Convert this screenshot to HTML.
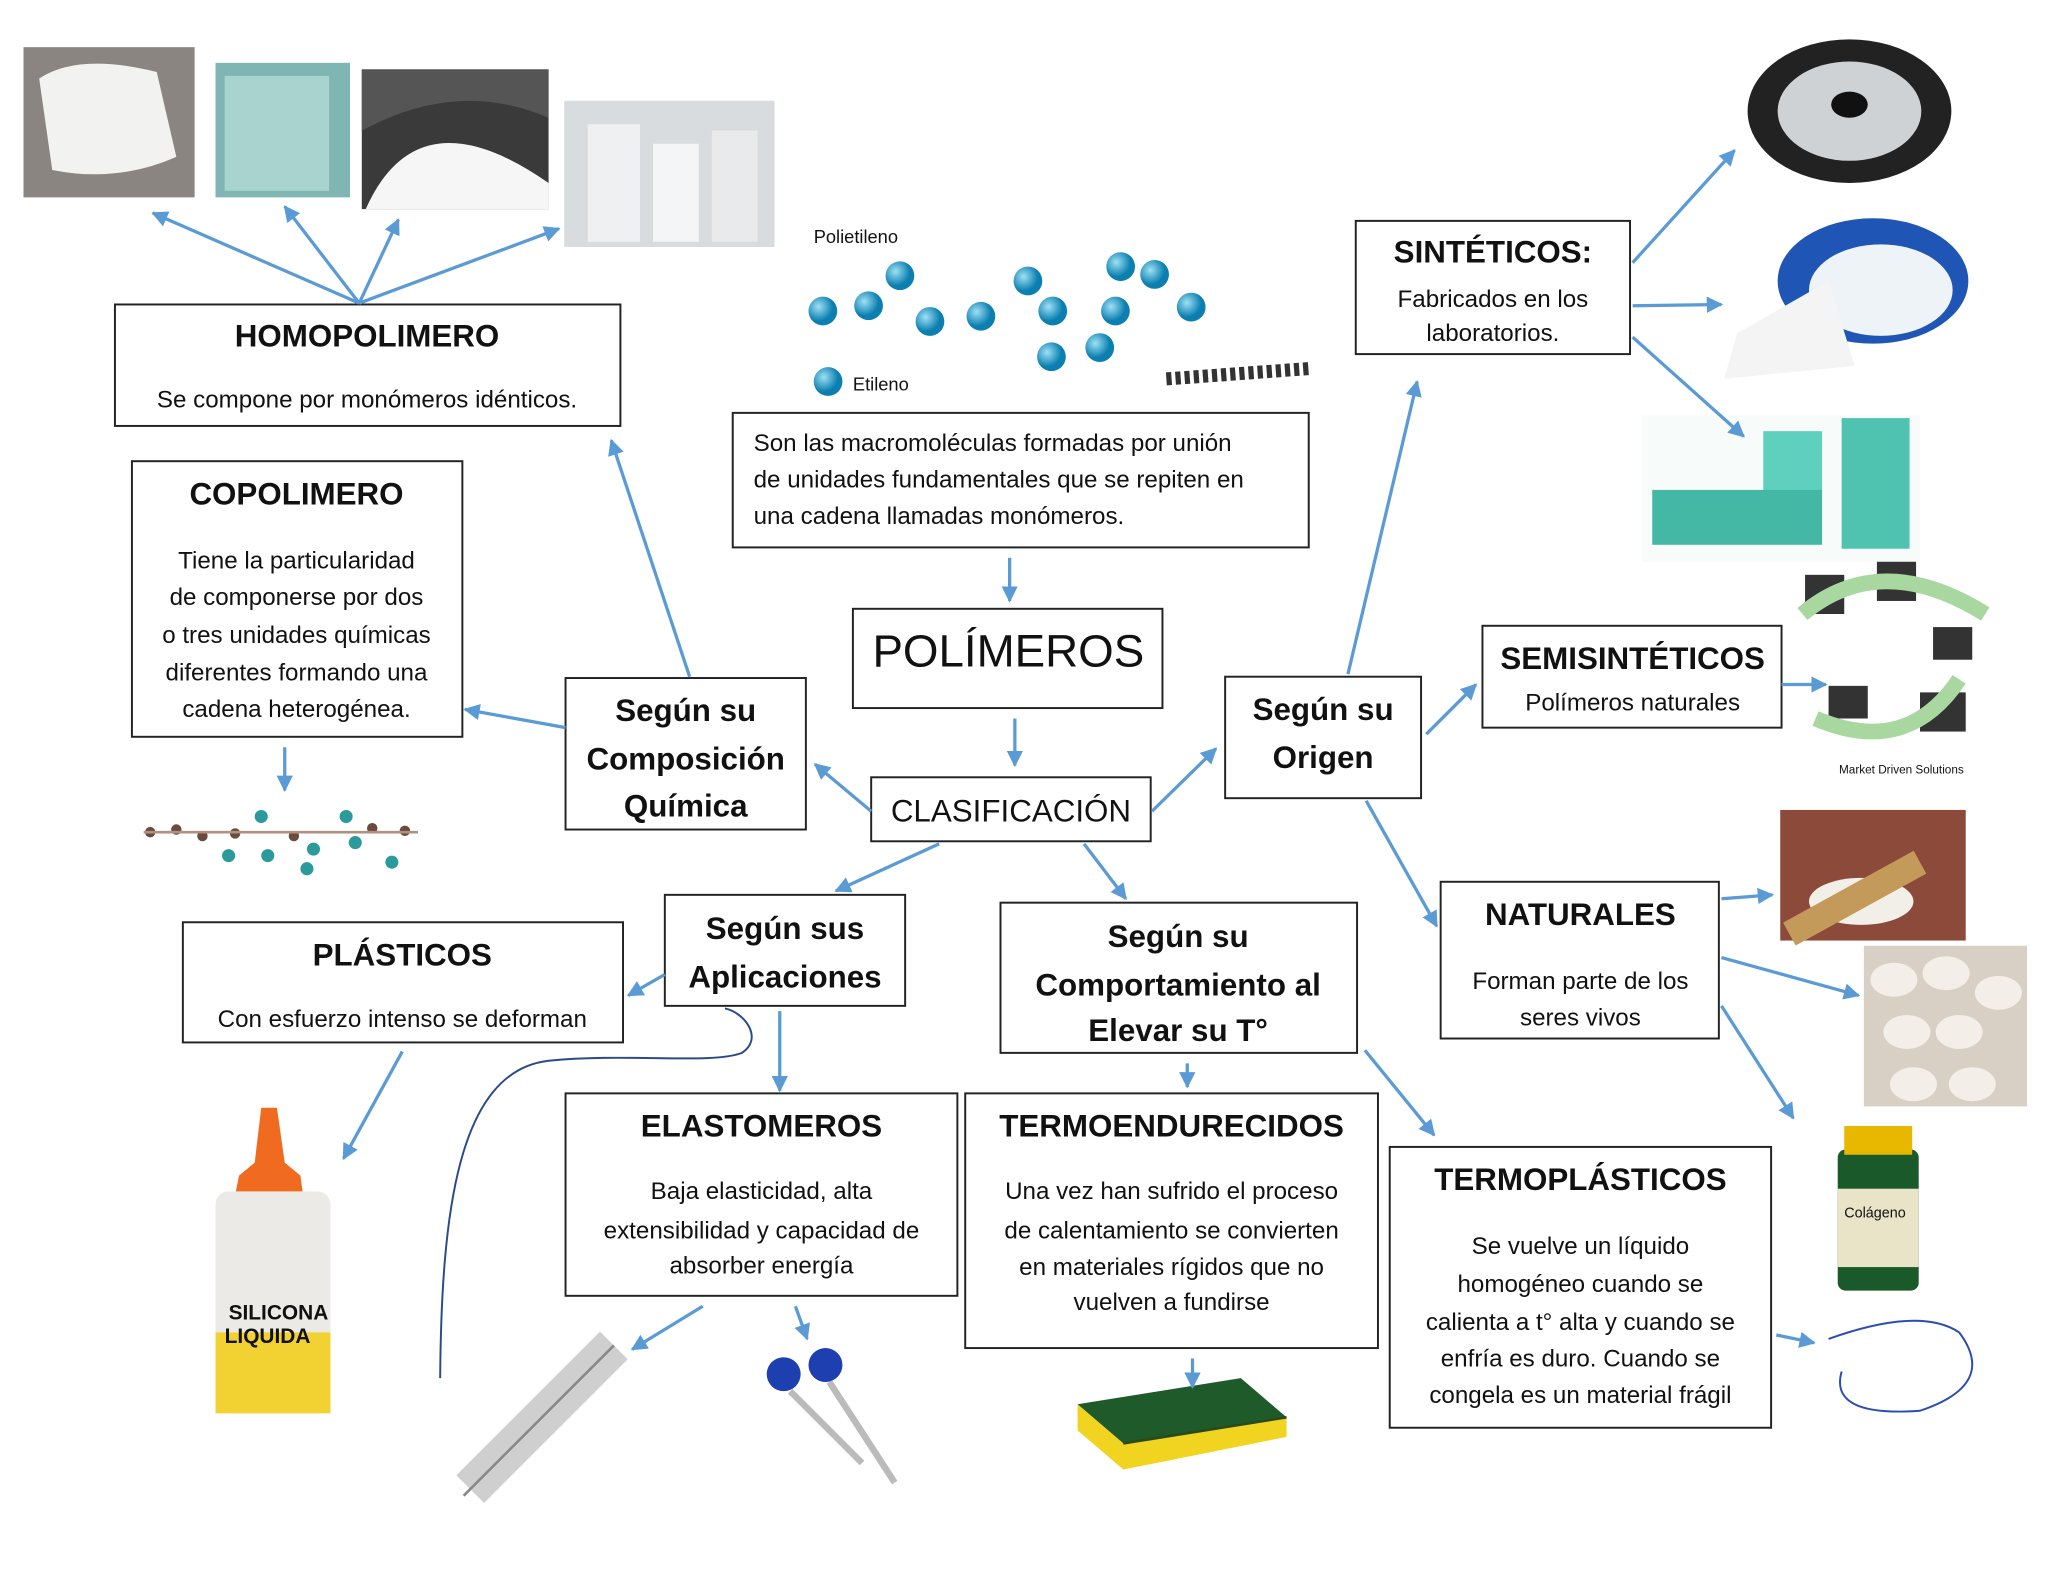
<!DOCTYPE html>
<html><head><meta charset="utf-8"><style>
html,body{margin:0;padding:0;background:#fff}
svg{display:block}
text{font-family:"Liberation Sans",sans-serif;fill:#111}
.b{font-weight:bold}
</style></head><body>
<svg width="2048" height="1582" viewBox="0 0 1568 1211" xmlns="http://www.w3.org/2000/svg">
<defs>
<marker id="a" viewBox="0 0 10 10" refX="9" refY="5" markerWidth="5" markerHeight="5" orient="auto"><path d="M0,0L10,5L0,10z" fill="#5b9bd5"/></marker>
<radialGradient id="ball" cx="35%" cy="35%"><stop offset="0" stop-color="#9fe0f5"/><stop offset="1" stop-color="#0a7fb0"/></radialGradient>
</defs>
<rect width="1568" height="1211" fill="#fff"/>

<!-- images (approximations) -->
<rect x="18" y="36" width="131" height="115" fill="#8a8580"/><path d="M30,60 Q60,40 120,55 L135,120 Q90,140 40,130 Z" fill="#f2f2f0"/>
<rect x="165" y="48" width="103" height="103" fill="#7fb6b3"/><rect x="172" y="58" width="80" height="88" fill="#a9d3cf"/>
<rect x="277" y="53" width="143" height="107" fill="#3a3a3a"/><path d="M277,53 L420,53 L420,90 Q350,60 277,100Z" fill="#555"/><path d="M280,160 Q320,70 420,140 L420,160Z" fill="#f6f6f6"/>
<rect x="432" y="77" width="161" height="112" fill="#d9dcdf"/><rect x="450" y="95" width="40" height="90" fill="#eef0f2"/><rect x="500" y="110" width="35" height="75" fill="#f4f5f6"/><rect x="545" y="100" width="35" height="85" fill="#e8eaec"/>

<!-- polyethylene molecule -->
<text x="623" y="186" font-size="14">Polietileno</text>
<g fill="url(#ball)">
<circle cx="630" cy="238" r="11"/><circle cx="665" cy="234" r="11"/><circle cx="689" cy="211" r="11"/><circle cx="712" cy="246" r="11"/><circle cx="751" cy="242" r="11"/><circle cx="787" cy="215" r="11"/><circle cx="806" cy="238" r="11"/><circle cx="805" cy="273" r="11"/><circle cx="842" cy="266" r="11"/><circle cx="854" cy="238" r="11"/><circle cx="858" cy="204" r="11"/><circle cx="884" cy="210" r="11"/><circle cx="912" cy="235" r="11"/><circle cx="634" cy="292" r="11"/>
</g>
<text x="653" y="299" font-size="14">Etileno</text>
<path d="M893,290 L1003,282" stroke="#333" stroke-width="10" stroke-dasharray="4 3"/>

<!-- right images -->
<ellipse cx="1416" cy="85" rx="78" ry="55" fill="#222"/><ellipse cx="1416" cy="85" rx="55" ry="38" fill="#cfd2d4"/><ellipse cx="1416" cy="80" rx="14" ry="10" fill="#111"/>
<ellipse cx="1434" cy="215" rx="73" ry="48" fill="#1f55b5"/><ellipse cx="1440" cy="222" rx="55" ry="35" fill="#eef3f8"/><path d="M1330,255 L1400,215 L1420,280 L1320,290Z" fill="#f4f4f4"/>
<rect x="1257" y="318" width="213" height="112" fill="#f7fbfa"/><rect x="1410" y="320" width="52" height="100" fill="#4fc3b0"/><rect x="1350" y="330" width="45" height="85" fill="#5fd0bd"/><rect x="1265" y="375" width="130" height="42" fill="#45b8a5"/>
<rect x="1382" y="440" width="30" height="30" fill="#333"/><rect x="1437" y="430" width="30" height="30" fill="#333"/><rect x="1480" y="480" width="30" height="25" fill="#333"/><rect x="1400" y="525" width="30" height="25" fill="#333"/><rect x="1470" y="530" width="35" height="30" fill="#333"/>
<path d="M1380,470 Q1440,420 1520,470 M1500,520 Q1460,580 1390,550" stroke="#a8d8a0" stroke-width="12" fill="none"/>
<text x="1408" y="592" font-size="9" fill="#556">Market Driven Solutions</text>
<rect x="1363" y="620" width="142" height="100" fill="#8b4a3a"/><ellipse cx="1425" cy="690" rx="40" ry="18" fill="#f2efe8"/><path d="M1370,715 L1470,660" stroke="#c39a5a" stroke-width="20"/>
<rect x="1427" y="724" width="125" height="123" fill="#d8d0c4"/><g fill="#f3efe8"><ellipse cx="1450" cy="750" rx="18" ry="13"/><ellipse cx="1490" cy="745" rx="18" ry="13"/><ellipse cx="1530" cy="760" rx="18" ry="13"/><ellipse cx="1460" cy="790" rx="18" ry="13"/><ellipse cx="1500" cy="790" rx="18" ry="13"/><ellipse cx="1465" cy="830" rx="18" ry="13"/><ellipse cx="1510" cy="830" rx="18" ry="13"/></g>
<rect x="1407" y="880" width="62" height="108" rx="6" fill="#1a5a2a"/><rect x="1412" y="862" width="52" height="22" fill="#e8b800"/><rect x="1407" y="910" width="62" height="60" fill="#e9e3c8"/><text x="1412" y="932" font-size="11" fill="#222">Colágeno</text>
<path d="M1400,1025 Q1470,1000 1500,1020 Q1530,1060 1470,1080 Q1400,1085 1410,1050" stroke="#2a4db0" fill="none" stroke-width="1.5"/>
<!-- left lower images -->
<g fill="#6c4a3e"><circle cx="115" cy="637" r="4"/><circle cx="135" cy="635" r="4"/><circle cx="155" cy="640" r="4"/><circle cx="180" cy="638" r="4"/><circle cx="225" cy="640" r="4"/><circle cx="285" cy="634" r="4"/><circle cx="310" cy="636" r="4"/></g>
<g fill="#2a9a9a"><circle cx="175" cy="655" r="5"/><circle cx="200" cy="625" r="5"/><circle cx="205" cy="655" r="5"/><circle cx="240" cy="650" r="5"/><circle cx="265" cy="625" r="5"/><circle cx="272" cy="645" r="5"/><circle cx="300" cy="660" r="5"/><circle cx="235" cy="665" r="5"/></g>
<path d="M110,637 L320,637" stroke="#b09080" stroke-width="2"/>
<path d="M200,848 L212,848 L218,890 L230,900 L232,915 L180,915 L183,900 L195,890Z" fill="#f06a20"/>
<rect x="165" y="912" width="88" height="170" rx="10" fill="#eceae6"/><rect x="165" y="1020" width="88" height="62" fill="#f2d232"/><text x="175" y="1010" font-size="16" class="b" fill="#3a5fb0">SILICONA</text><text x="172" y="1028" font-size="16" class="b" fill="#3a5fb0">LIQUIDA</text>
<path d="M360,1140 L470,1030" stroke="#cfcfcf" stroke-width="30"/><path d="M355,1145 L470,1030" stroke="#888" stroke-width="2" fill="none"/>
<circle cx="600" cy="1052" r="13" fill="#1d3fb0"/><circle cx="632" cy="1045" r="13" fill="#1d3fb0"/><path d="M605,1065 L660,1120 M635,1058 L685,1135" stroke="#bbb" stroke-width="5"/>
<path d="M825,1075 L950,1055 L985,1085 L860,1105Z" fill="#1f5a2a"/><path d="M825,1075 L860,1105 L985,1085 L985,1100 L860,1125 L825,1095Z" fill="#f0d420"/><path d="M860,1105 L985,1085" stroke="#2a4a1a" stroke-width="2"/>

<!-- boxes -->
<g fill="#fff" stroke="#222" stroke-width="1.5">
<rect x="88" y="233" width="387" height="93"/>
<rect x="101" y="353" width="253" height="211"/>
<rect x="561" y="316" width="441" height="103"/>
<rect x="653" y="466" width="237" height="76"/>
<rect x="667" y="595" width="214" height="49"/>
<rect x="433" y="519" width="184" height="116"/>
<rect x="938" y="518" width="150" height="93"/>
<rect x="1038" y="169" width="210" height="102"/>
<rect x="1135" y="479" width="229" height="78"/>
<rect x="1103" y="675" width="213" height="120"/>
<rect x="140" y="706" width="337" height="92"/>
<rect x="509" y="685" width="184" height="85"/>
<rect x="766" y="691" width="273" height="115"/>
<rect x="433" y="837" width="300" height="155"/>
<rect x="739" y="837" width="316" height="195"/>
<rect x="1064" y="878" width="292" height="215"/>
</g>

<g text-anchor="middle">
<text x="281" y="265" font-size="24" class="b">HOMOPOLIMERO</text>
<text x="281" y="312" font-size="18.5">Se compone por monómeros idénticos.</text>
<text x="227" y="386" font-size="24" class="b">COPOLIMERO</text>
<text x="227" y="435" font-size="18.5">Tiene la particularidad</text>
<text x="227" y="463" font-size="18.5">de componerse por dos</text>
<text x="227" y="492" font-size="18.5">o tres unidades químicas</text>
<text x="227" y="521" font-size="18.5">diferentes formando una</text>
<text x="227" y="549" font-size="18.5">cadena heterogénea.</text>
<text x="772" y="510" font-size="35">POLÍMEROS</text>
<text x="774" y="629" font-size="24">CLASIFICACIÓN</text>
<text x="525" y="552" font-size="24" class="b">Según su</text>
<text x="525" y="589" font-size="24" class="b">Composición</text>
<text x="525" y="625" font-size="24" class="b">Química</text>
<text x="1013" y="551" font-size="24" class="b">Según su</text>
<text x="1013" y="588" font-size="24" class="b">Origen</text>
<text x="1143" y="201" font-size="24" class="b">SINTÉTICOS:</text>
<text x="1143" y="235" font-size="18.5">Fabricados en los</text>
<text x="1143" y="261" font-size="18.5">laboratorios.</text>
<text x="1250" y="512" font-size="24" class="b">SEMISINTÉTICOS</text>
<text x="1250" y="544" font-size="18.5">Polímeros naturales</text>
<text x="1210" y="708" font-size="24" class="b">NATURALES</text>
<text x="1210" y="757" font-size="18.5">Forman parte de los</text>
<text x="1210" y="785" font-size="18.5">seres vivos</text>
<text x="308" y="739" font-size="24" class="b">PLÁSTICOS</text>
<text x="308" y="786" font-size="18.5">Con esfuerzo intenso se deforman</text>
<text x="601" y="719" font-size="24" class="b">Según sus</text>
<text x="601" y="756" font-size="24" class="b">Aplicaciones</text>
<text x="902" y="725" font-size="24" class="b">Según su</text>
<text x="902" y="762" font-size="24" class="b">Comportamiento al</text>
<text x="902" y="797" font-size="24" class="b">Elevar su T°</text>
<text x="583" y="870" font-size="24" class="b">ELASTOMEROS</text>
<text x="583" y="918" font-size="18.5">Baja elasticidad, alta</text>
<text x="583" y="948" font-size="18.5">extensibilidad y capacidad de</text>
<text x="583" y="975" font-size="18.5">absorber energía</text>
<text x="897" y="870" font-size="24" class="b">TERMOENDURECIDOS</text>
<text x="897" y="918" font-size="18.5">Una vez han sufrido el proceso</text>
<text x="897" y="948" font-size="18.5">de calentamiento se convierten</text>
<text x="897" y="976" font-size="18.5">en materiales rígidos que no</text>
<text x="897" y="1003" font-size="18.5">vuelven a fundirse</text>
<text x="1210" y="911" font-size="24" class="b">TERMOPLÁSTICOS</text>
<text x="1210" y="960" font-size="18.5">Se vuelve un líquido</text>
<text x="1210" y="989" font-size="18.5">homogéneo cuando se</text>
<text x="1210" y="1018" font-size="18.5">calienta a t° alta y cuando se</text>
<text x="1210" y="1046" font-size="18.5">enfría es duro. Cuando se</text>
<text x="1210" y="1074" font-size="18.5">congela es un material frágil</text>
</g>
<text x="577" y="345" font-size="18.5">Son las macromoléculas formadas por unión</text>
<text x="577" y="373" font-size="18.5">de unidades fundamentales que se repiten en</text>
<text x="577" y="401" font-size="18.5">una cadena llamadas monómeros.</text>

<!-- arrows -->
<g stroke="#5b9bd5" stroke-width="2.5" fill="none" marker-end="url(#a)">
<path d="M275,232L117,163"/><path d="M275,232L218,158"/><path d="M275,232L305,168"/><path d="M275,232L428,175"/>
<path d="M528,518L468,337"/><path d="M433,557L356,543"/><path d="M667,621L624,585"/>
<path d="M218,572L218,605"/><path d="M773,427L773,460"/><path d="M777,550L777,586"/>
<path d="M882,621L931,573"/><path d="M1032,516L1085,292"/><path d="M1092,562L1130,524"/>
<path d="M1250,201L1328,115"/><path d="M1250,234L1318,233"/><path d="M1250,258L1335,334"/>
<path d="M1364,524L1398,524"/><path d="M1046,613L1100,709"/>
<path d="M1318,688L1357,685"/><path d="M1318,733L1423,762"/><path d="M1318,770L1373,856"/>
<path d="M719,646L640,682"/><path d="M830,646L862,688"/><path d="M509,746L481,762"/>
<path d="M597,774L597,835"/><path d="M909,814L909,832"/><path d="M1045,804L1098,869"/>
<path d="M308,805L263,887"/><path d="M538,1000L484,1033"/><path d="M609,1000L618,1025"/>
<path d="M913,1040L913,1062"/><path d="M1360,1022L1389,1028"/>
</g>
<path d="M337,1055 C338,930 350,820 420,812 C480,806 545,815 568,806 C585,795 570,775 555,772" stroke="#2b4a8a" stroke-width="1.5" fill="none"/>
</svg>
</body></html>
